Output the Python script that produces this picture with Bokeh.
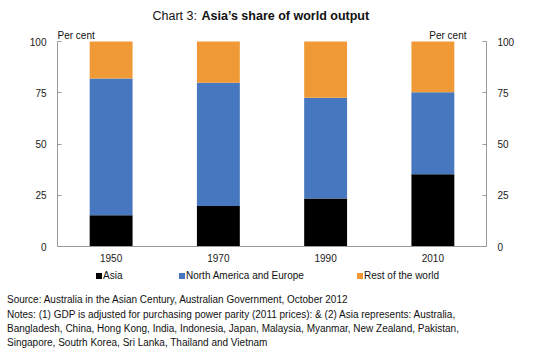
from bokeh.plotting import figure
from bokeh.models import (Range1d, FactorRange, LinearAxis, CategoricalAxis, FixedTicker, Label,
                          ColumnDataSource, Div)
from bokeh.layouts import column
from bokeh.embed import file_html
from bokeh.resources import INLINE

years = ["1950", "1970", "1990", "2010"]
asia = [15.3, 19.7, 23.4, 35.3]
na_europe = [66.7, 60.2, 49.2, 40.0]
rest = [18.0, 20.1, 27.4, 24.7]
series_names = ["Asia", "North America and Europe", "Rest of the world"]
colors = ["#000000", "#4677BF", "#F09A37"]
y_ticks = [0, 25, 50, 75, 100]
notes = [
    "Source: Australia in the Asian Century, Australian Government, October 2012",
    "Notes: (1) GDP is adjusted for purchasing power parity (2011 prices): & (2) Asia represents: Australia,",
    "Bangladesh, China, Hong Kong, India, Indonesia, Japan, Malaysia, Myanmar, New Zealand, Pakistan,",
    "Singapore, Soutrh Korea, Sri Lanka, Thailand and Vietnam",
]

FONT = "Liberation Sans"
W, H = 542, 351
FIG_H = 268
FL, FR = 57, 56
AXIS_Y = 246          # canvas y of the x axis line
TOP_Y = 41            # canvas y of the 100 line
PX_PER_UNIT = (AXIS_Y - TOP_Y) / 100.0
y_top = 100 + TOP_Y / PX_PER_UNIT   # frame reaches the top of the canvas

src = ColumnDataSource(dict(year=years, asia=asia, nae=na_europe, rest=rest))

p = figure(width=W, height=FIG_H, x_range=FactorRange(*years, range_padding=0),
           y_range=Range1d(0, y_top), output_backend="svg", toolbar_location=None,
           x_axis_location=None, y_axis_location=None,
           min_border_left=FL, min_border_right=FR, min_border_top=0,
           min_border_bottom=FIG_H - AXIS_Y)
p.outline_line_color = None
p.xgrid.grid_line_color = None
p.ygrid.grid_line_color = None

rs = p.vbar_stack(["asia", "nae", "rest"], x="year", width=0.4, source=src,
                  color=colors, line_color=None)

ax_col = "#9A9A9A"
txt_col = "#1A1A1A"

xcat = CategoricalAxis(axis_line_color=ax_col, major_tick_line_color=None,
                       major_tick_in=0, major_tick_out=0, minor_tick_line_color=None,
                       major_label_standoff=7, major_label_text_font=FONT,
                       major_label_text_font_size="10px", major_label_text_color=txt_col)
p.add_layout(xcat, "below")

p.add_layout(LinearAxis(), "left")
p.add_layout(LinearAxis(), "right")
for ax in p.yaxis:
    ax.ticker = FixedTicker(ticks=y_ticks)
    ax.bounds = (0, 100)
    ax.axis_line_color = ax_col
    ax.major_tick_line_color = ax_col
    ax.major_tick_in = 4
    ax.major_tick_out = 0
    ax.minor_tick_line_color = None
    ax.major_label_standoff = 11
    ax.major_label_text_font = FONT
    ax.major_label_text_font_size = "10px"
    ax.major_label_text_color = txt_col

def lab(text, cx, cy, size="10px", style="normal", align="left"):
    p.add_layout(Label(x=cx - FL, y=AXIS_Y - cy, x_units="screen", y_units="screen",
                       text=text, text_font=FONT, text_font_size=size, text_font_style=style,
                       text_align=align, text_baseline="middle", text_color="#111111"))

lab("Chart 3: ", 152, 15, "12.5px")
lab("Asia\u2019s share of world output", 201, 15, "12.5px", "bold")
lab("Per cent", 57, 35)
lab("Per cent", 466, 35, align="right")

# legend row + notes (below the chart)
legend_x = [96, 179, 357]
items = ""
for name, col, lx in zip(series_names, colors, legend_x):
    items += (f"<span style='position:absolute;left:{lx}px;top:5px;width:6px;height:6px;"
              f"background:{col};'></span>"
              f"<span style='position:absolute;left:{lx + 7}px;top:1px;line-height:14px;'>{name}</span>")
notes_html = ("<div style=\"position:relative;width:542px;height:83px;font-family:'Liberation Sans',Arial,sans-serif;"
              "font-size:10px;color:#111111;white-space:nowrap;\">"
              + items +
              "<div style='position:absolute;left:7px;top:25.4px;line-height:14.2px;'>"
              + "<br>".join(notes) + "</div></div>")
bottom_div = Div(text=notes_html, width=W, height=H - FIG_H, margin=0)

layout = column(p, bottom_div, spacing=0, margin=0)

open("out.html", "w").write(file_html(layout, INLINE))
